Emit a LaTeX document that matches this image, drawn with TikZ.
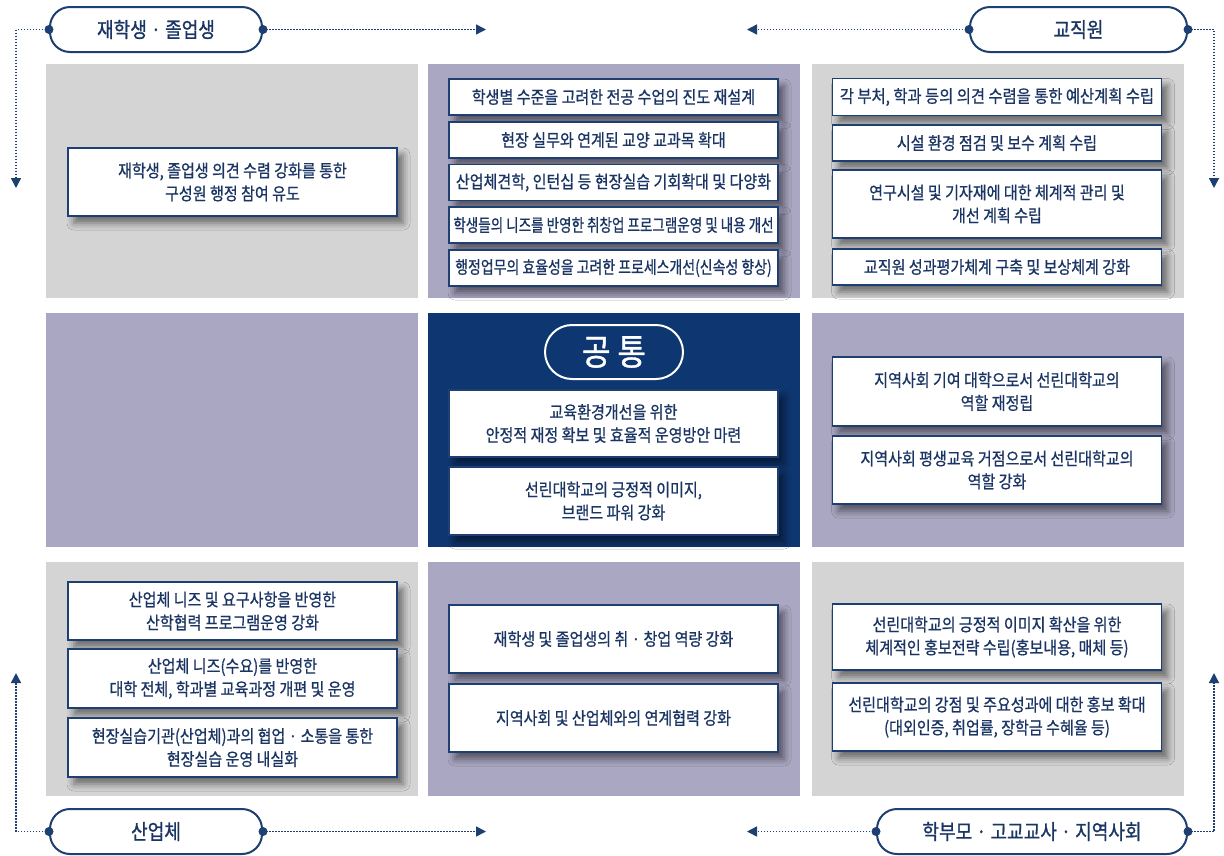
\documentclass[tikz,border=0pt]{standalone}
\usepackage{fontspec}
\setmainfont[FakeStretch=0.86]{Noto Sans CJK KR}
\newfontfamily\krm[FakeStretch=0.86,FakeBold=0.7]{Noto Sans CJK KR}
\newfontfamily\krb[FakeStretch=0.86,FakeBold=1.0]{Noto Sans CJK KR}
\usetikzlibrary{arrows.meta,shadows.blur}
\definecolor{navy}{HTML}{0E3670}
\definecolor{bord}{HTML}{1E3F72}
\definecolor{txt}{HTML}{1A3463}
\definecolor{greyp}{HTML}{D4D4D4}
\definecolor{lav}{HTML}{AAA7C2}
\newcommand{\sq}[2]{\scalebox{#1}[1]{#2}}
\begin{document}
\begin{tikzpicture}[x=1pt,y=-1pt,
  panel/.style={draw=none, minimum width=372pt, minimum height=234pt, inner sep=0pt, outer sep=0pt},
  bx/.style={draw=bord, line width=1.8pt, fill=white, text=txt, font=\krm\fontsize{17.5}{23}\selectfont,
    align=center, minimum width=329pt, inner sep=0pt,
    blur shadow={shadow xshift=6pt, shadow yshift=-7pt, shadow blur radius=7pt, shadow opacity=50}},
  pill/.style={draw=bord, line width=2pt, fill=white, rounded corners=20pt, text=txt,
    font=\krb\fontsize{21}{25}\selectfont, minimum height=45pt, inner sep=0pt},
  dot/.style={circle, fill=bord, inner sep=0pt, minimum size=9pt},
  conn/.style={bord, line width=1.5pt, dash pattern=on 1.5pt off 1.5pt, -{Triangle[length=10pt,width=10pt]}}
]
\useasboundingbox (0,0) rectangle (1224,855);
\fill[white] (0,0) rectangle (1224,855);

% panels
\node[panel, fill=greyp] (pTL) at (232,180.5) {};
\node[panel, fill=lav]   (pTM) at (614,180.5) {};
\node[panel, fill=greyp] (pTR) at (997.5,180.5) {};
\node[panel, fill=lav]   (pML) at (232,430) {};
\node[panel, fill=navy]  (pMM) at (614,430) {};
\node[panel, fill=lav]   (pMR) at (997.5,430) {};
\node[panel, fill=greyp] (pBL) at (232,679) {};
\node[panel, fill=lav]   (pBM) at (614,679) {};
\node[panel, fill=greyp] (pBR) at (997.5,679) {};

% top-left
\node[bx, minimum height=68pt] (tl1) at (232.5,182) {재학생, 졸업생 의견 수렴 강화를 통한\\구성원 행정 참여 유도};

% top-middle
\node[bx, minimum height=36pt] (tm1) at (613.5,97) {학생별 수준을 고려한 전공 수업의 진도 재설계};
\node[bx, minimum height=36pt] (tm2) at (613.5,140) {현장 실무와 연계된 교양 교과목 확대};
\node[bx, minimum height=36pt] (tm3) at (613.5,182.5) {산업체견학, 인턴십 등 현장실습 기회확대 및 다양화};
\node[bx, minimum height=36pt] (tm4) at (613.5,225) {\sq{0.9}{학생들의 니즈를 반영한 취창업 프로그램운영 및 내용 개선}};
\node[bx, minimum height=36pt] (tm5) at (613.5,268) {\sq{0.925}{행정업무의 효율성을 고려한 프로세스개선(신속성 향상)}};

% top-right
\node[bx, minimum height=37pt] (tr1) at (997,97) {\sq{1.02}{각 부처, 학과 등의 의견 수렴을 통한 예산계획 수립}};
\node[bx, minimum height=36pt] (tr2) at (997,143) {시설 환경 점검 및 보수 계획 수립};
\node[bx, minimum height=68pt] (tr3) at (997,204) {연구시설 및 기자재에 대한 체계적 관리 및\\개선 계획 수립};
\node[bx, minimum height=36pt] (tr4) at (997,267) {교직원 성과평가체계 구축 및 보상체계 강화};

% center
\node[draw=white, line width=2pt, rounded corners=27pt, minimum width=138pt, minimum height=54pt,
  text=white, font=\krb\fontsize{36}{38}\selectfont, inner sep=0pt] (common) at (614,352) {공 통};
\node[bx, minimum height=67pt] (c1) at (613.5,423.5) {교육환경개선을 위한\\안정적 재정 확보 및 효율적 운영방안 마련};
\node[bx, minimum height=68pt] (c2) at (613.5,501) {선린대학교의 긍정적 이미지,\\브랜드 파워 강화};

% middle-right
\node[bx, minimum height=69pt] (mr1) at (997,391.5) {지역사회 기여 대학으로서 선린대학교의\\역할 재정립};
\node[bx, minimum height=68pt] (mr2) at (997,470) {지역사회 평생교육 거점으로서 선린대학교의\\역할 강화};

% bottom-left
\node[bx, minimum height=58pt] (bl1) at (232.5,611) {산업체 니즈 및 요구사항을 반영한\\산학협력 프로그램운영 강화};
\node[bx, minimum height=59pt] (bl2) at (232.5,678.5) {산업체 니즈(수요)를 반영한\\대학 전체, 학과별 교육과정 개편 및 운영};
\node[bx, minimum height=59pt] (bl3) at (232.5,747.5) {현장실습기관(산업체)과의 협업 · 소통을 통한\\현장실습 운영 내실화};

% bottom-middle
\node[bx, minimum height=68pt] (bm1) at (613.5,639) {재학생 및 졸업생의 취 · 창업 역량 강화};
\node[bx, minimum height=68pt] (bm2) at (613.5,718) {지역사회 및 산업체와의 연계협력 강화};

% bottom-right
\node[bx, minimum height=66pt] (br1) at (997,637) {선린대학교의 긍정적 이미지 확산을 위한\\체계적인 홍보전략 수립(홍보내용, 매체 등)};
\node[bx, minimum height=68pt] (br2) at (997,717) {선린대학교의 강점 및 주요성과에 대한 홍보 확대\\(대외인증, 취업률, 장학금 수혜율 등)};

% pills
\node[pill, minimum width=212pt] (p1) at (156,29.5) {재학생 · 졸업생};
\node[pill, minimum width=217pt] (p2) at (1078.5,29.5) {교직원};
\node[pill, minimum width=212pt] (p3) at (156,831.5) {산업체};
\node[pill, minimum width=310pt] (p4) at (1032,831.5) {학부모 · 고교교사 · 지역사회};

\coordinate (a1r) at (486,29.5);
\coordinate (a1d) at (16,188);
\coordinate (a2l) at (747,29.5);
\coordinate (a2d) at (1214,188);
\coordinate (a3r) at (486,831.5);
\coordinate (a3u) at (16,673);
\coordinate (a4l) at (747,831.5);
\coordinate (a4u) at (1214,673);

\draw[conn] (p1.east) -- (a1r);
\draw[conn] (p1.west) -| (a1d);
\draw[conn] (p2.west) -- (a2l);
\draw[conn] (p2.east) -| (a2d);
\draw[conn] (p3.east) -- (a3r);
\draw[conn] (p3.west) -| (a3u);
\draw[conn] (p4.west) -- (a4l);
\draw[conn] (p4.east) -| (a4u);

\node[dot] (d1l) at (p1.west) {};
\node[dot] (d1r) at (p1.east) {};
\node[dot] (d2l) at (p2.west) {};
\node[dot] (d2r) at (p2.east) {};
\node[dot] (d3l) at (p3.west) {};
\node[dot] (d3r) at (p3.east) {};
\node[dot] (d4l) at (p4.west) {};
\node[dot] (d4r) at (p4.east) {};
\end{tikzpicture}
\end{document}
